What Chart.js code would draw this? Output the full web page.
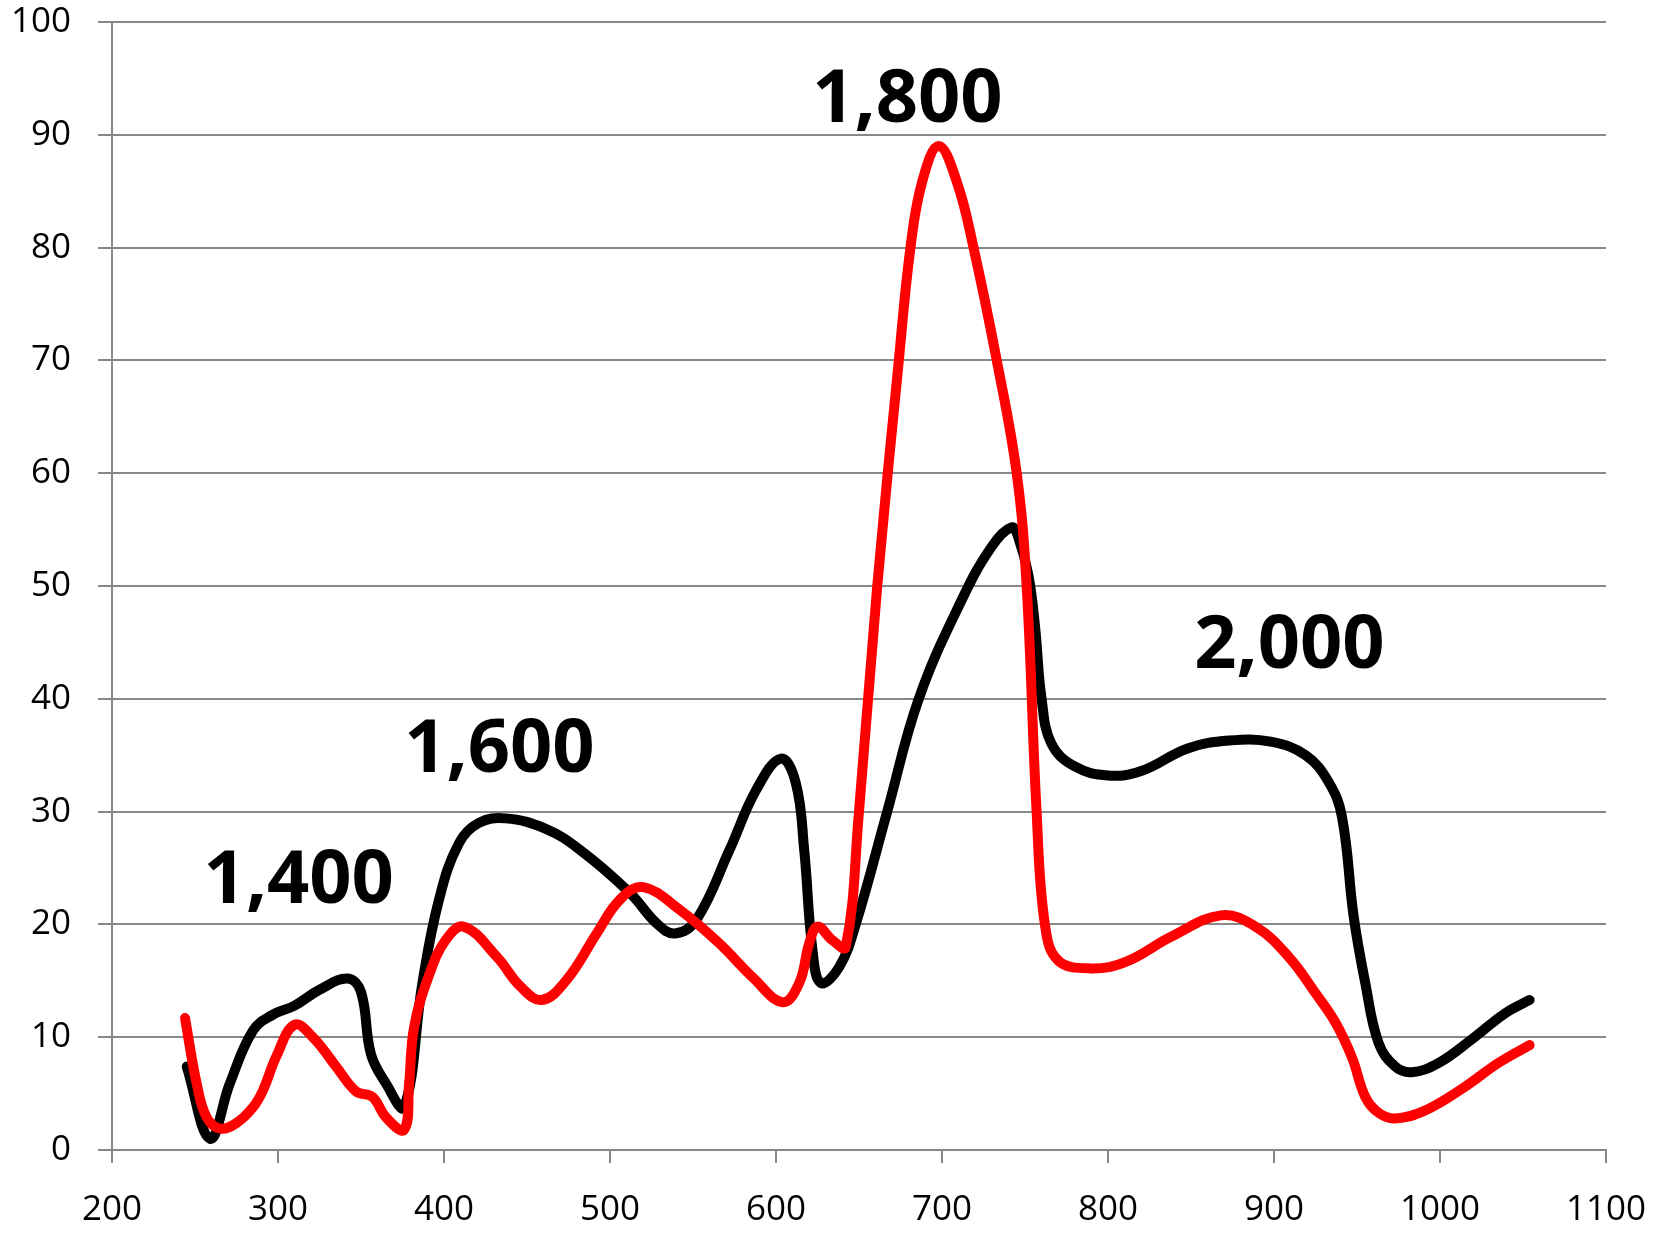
<!DOCTYPE html>
<html>
<head>
<meta charset="utf-8">
<script src="https://cdn.jsdelivr.net/npm/chart.js@4/dist/chart.umd.min.js"></script>
<style>
  html, body { margin: 0; padding: 0; background: #fff; }
  #chart { display: block; }
</style>
</head>
<body>
<canvas id="chart" width="1672" height="1233"></canvas>
<script>
// Datos
const blackX = [245, 259, 271, 285, 297, 310, 325, 342, 350, 356, 365, 376, 387, 397, 409, 421, 437, 461, 482, 512, 528, 539, 552, 572, 588, 603, 612, 617, 622, 627, 638, 648, 667, 686, 712, 730, 742, 746, 752, 756, 760, 766, 780, 800, 820, 848, 873, 898, 919, 933, 941, 948, 955, 963, 973, 983, 999, 1019, 1039, 1054];
const blackY = [7.4, 1.0, 5.9, 10.6, 12.0, 12.8, 14.2, 15.2, 14.0, 8.5, 5.9, 3.8, 14.8, 22.2, 27.2, 29.0, 29.4, 28.5, 26.6, 22.8, 20.1, 19.2, 20.4, 26.6, 31.9, 34.7, 32.5, 26.6, 17.7, 14.8, 16.2, 20.0, 30.0, 40.0, 48.8, 53.5, 55.2, 54.3, 51.0, 46.5, 40.0, 36.0, 34.0, 33.2, 33.6, 35.6, 36.3, 36.2, 35.0, 32.6, 29.5, 20.7, 14.8, 9.5, 7.4, 6.9, 7.7, 9.8, 12.1, 13.3];

const redX = [244, 251, 257, 265, 275, 285, 291, 299, 310, 321, 335, 347, 357, 365, 376, 379, 382, 391, 401, 412, 432, 446, 459, 474, 492, 506, 520, 542, 566, 586, 604, 614, 620, 625, 634, 642, 650, 661, 674, 681, 688, 698, 709, 719, 733, 745, 751, 757, 762, 770, 790, 811, 838, 868, 889, 909, 925, 937, 947, 955, 963, 973, 991, 1015, 1035, 1054];
const redY = [11.7, 5.9, 2.9, 1.9, 2.4, 3.8, 5.3, 8.3, 11.1, 10.0, 7.4, 5.2, 4.7, 2.9, 1.8, 5.9, 10.9, 15.5, 18.6, 19.8, 17.1, 14.5, 13.3, 15.1, 19.2, 22.2, 23.3, 21.3, 18.3, 15.3, 13.1, 14.8, 18.3, 19.8, 18.6, 18.0, 30, 50, 70, 80, 85.8, 89, 85.8, 80, 70, 60, 50, 30, 20, 16.8, 16.1, 16.7, 18.9, 20.8, 19.8, 17.1, 13.9, 11.3, 8.2, 4.7, 3.3, 2.8, 3.5, 5.6, 7.7, 9.3];

// Etiquetas grandes (posicion en valores de datos, linea base del texto)
const peakLabels = ['1,400', '1,600', '1,800', '2,000'];
const peakLabelX = [312.5, 433.4, 679.2, 909.3];
const peakLabelY = [21.9, 33.5, 91.1, 42.7];

function toPoints(xs, ys) {
    return xs.map((x, i) => ({ x: x, y: ys[i] }));
}

const gridGray = '#888888';
const tickFont = { family: '"Open Sans", sans-serif', size: 35 };

const peakLabelPlugin = {
    id: 'peakLabels',
    afterDatasetsDraw(chart) {
        const ctx = chart.ctx;
        const sx = chart.scales.x, sy = chart.scales.y;
        ctx.save();
        ctx.fillStyle = '#000';
        ctx.font = 'bold 74px "Open Sans", sans-serif';
        ctx.textAlign = 'center';
        ctx.textBaseline = 'alphabetic';
        peakLabels.forEach((txt, i) => {
            ctx.fillText(txt, sx.getPixelForValue(peakLabelX[i]), sy.getPixelForValue(peakLabelY[i]));
        });
        ctx.restore();
    }
};

const lineStyle = {
    borderWidth: 10,
    tension: 0.4,
    pointRadius: 0,
    borderCapStyle: 'round',
    borderJoinStyle: 'round',
    fill: false
};

const ctx = document.getElementById('chart').getContext('2d');
new Chart(ctx, {
    type: 'line',
    data: {
        datasets: [
            Object.assign({ data: toPoints(redX, redY), borderColor: '#ff0000' }, lineStyle),
            Object.assign({ data: toPoints(blackX, blackY), borderColor: '#000000' }, lineStyle)
        ]
    },
    options: {
        responsive: false,
        animation: false,
        layout: { padding: { left: 0, right: 64, top: 0, bottom: 0 } },
        plugins: { legend: { display: false }, tooltip: { enabled: false } },
        scales: {
            x: {
                type: 'linear',
                min: 200, max: 1100,
                border: { color: gridGray, width: 2 },
                grid: { drawOnChartArea: false, drawTicks: true, tickLength: 13, color: gridGray, lineWidth: 2 },
                ticks: { stepSize: 100, color: '#000', font: tickFont, padding: 26, maxRotation: 0,
                         callback: v => String(v) },
                afterFit: s => { s.height = 83; }
            },
            y: {
                min: 0, max: 100,
                border: { color: gridGray, width: 2 },
                grid: { drawTicks: true, tickLength: 14, color: gridGray, lineWidth: 2 },
                ticks: { stepSize: 10, color: '#000', font: tickFont, padding: 27,
                         callback: v => String(v) },
                afterFit: s => { s.width = 112; s.paddingTop = 22; s.paddingBottom = 0; }
            }
        }
    },
    plugins: [peakLabelPlugin]
});
</script>
</body>
</html>
